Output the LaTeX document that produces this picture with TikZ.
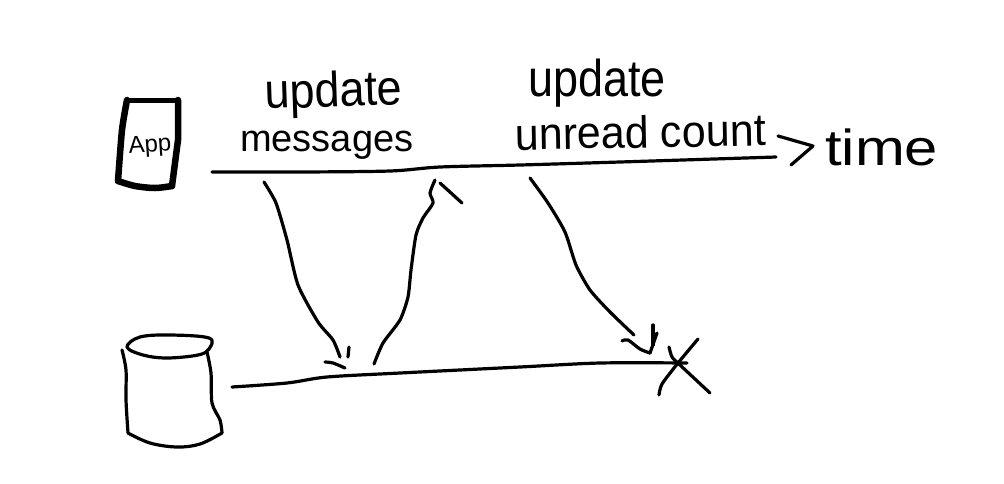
\documentclass[tikz,border=0pt]{standalone}
\usepackage{fontspec}
\setmainfont{Liberation Sans}
\tikzset{
  sketch/.style={line width=3.2pt,line cap=round,line join=round,black},
  heavy/.style={line width=6.5pt,line cap=round,line join=round,black},
  hand/.style={inner sep=0pt,anchor=base west,black},
}
\begin{document}
\begin{tikzpicture}[x=1pt,y=-1pt]
\useasboundingbox[fill=white] (0,0) rectangle (1004,483);
% labels
\node[hand,font=\fontsize{45}{45}\selectfont,rotate=2,yscale=1.1] (upd1) at (265,109) {update};
\node[hand,font=\fontsize{38}{38}\selectfont] (msg) at (240,151) {messages};
\node[hand,font=\fontsize{45}{45}\selectfont,yscale=1.15] (upd2) at (528,96) {update};
\node[hand,font=\fontsize{43}{43}\selectfont,rotate=1,yscale=1.05] (unread) at (515,150) {unread count};
\node[hand,font=\fontsize{46}{46}\selectfont,xscale=1.3,yscale=1.1] (time) at (825,165) {time};
\node[hand,font=\fontsize{24}{24}\selectfont,rotate=4] (app) at (129,154) {App};
% phone
\draw[line width=5pt,line cap=round,black] plot[smooth,tension=.4] coordinates {(127,100) (150,100) (178,100)};
\draw[heavy] plot[smooth,tension=.4] coordinates {(127,100) (122,130) (118,181)};
\draw[heavy] (178,100) -- (178,140) -- (172,186);
\draw[heavy] plot[smooth,tension=.5] coordinates {(118,181) (135,186) (155,188) (172,186)};
% database
\draw[sketch] plot[smooth cycle,tension=.6] coordinates {(127,347) (140,337) (170,335) (209,338) (209,349) (198,355) (167,358) (143,355)};
\draw[sketch] plot[smooth,tension=.5] coordinates {(122,350) (126,370) (126,400) (128,433)};
\draw[sketch] plot[smooth,tension=.6] coordinates {(128,433) (150,443) (177,447) (200,444) (222,433)};
\draw[sketch] plot[smooth,tension=.5] coordinates {(207,352) (211,373) (212,403) (220,420) (222,433)};
% time lines
\coordinate (topstart) at (212,172);
\coordinate (topend) at (776,157);
\coordinate (botstart) at (232,387);
\coordinate (botend) at (687,363);
\draw[sketch] plot[smooth,tension=.5] coordinates {(topstart) (300,172) (390,171) (440,167) (520,165) (620,162) (topend)};
\draw[sketch] (778,136) -- (813,146) -- (791,165);
\draw[sketch] plot[smooth,tension=.5] coordinates {(botstart) (287,383) (327,377) (400,373) (520,367) (600,363) (botend)};
% X
\draw[sketch] plot[smooth,tension=.4] coordinates {(698,339) (678,363) (662,384) (659,395)};
\draw[sketch] plot[smooth,tension=.4] coordinates {(669,347) (672,357) (680,365) (710,393)};
% message arrow down
\coordinate (a1s) at (264,182);
\coordinate (a1e) at (340,357);
\draw[sketch] plot[smooth,tension=.4] coordinates {(a1s) (276,203) (287,240) (298,285) (318,322) (333,340) (a1e)};
\draw[sketch] plot[smooth,tension=.5] coordinates {(325,362) (333,363) (345,368)};
\draw[sketch] (349,347) -- (348,357);
% ack up
\coordinate (a2s) at (374,364);
\coordinate (a2e) at (435,180);
\draw[sketch] plot[smooth,tension=.4] coordinates {(a2s) (383,343) (400,320) (408,297) (411,270) (416,235) (423,218) (433,203) (430,193) (a2e)};
\draw[sketch] (440,183) -- (462,203);
% unread arrow
\coordinate (a3s) at (530,178);
\coordinate (a3e) at (634,335);
\draw[sketch] plot[smooth,tension=.4] coordinates {(a3s) (548,203) (565,232) (576,265) (590,290) (610,312) (a3e)};
\draw[sketch] plot[smooth,tension=.5] coordinates {(622,341) (628,340) (640,349) (650,353)};
\draw[sketch] (650,353) -- (657,333);
\draw[sketch] (653,325) -- (653,345);
\end{tikzpicture}
\end{document}
